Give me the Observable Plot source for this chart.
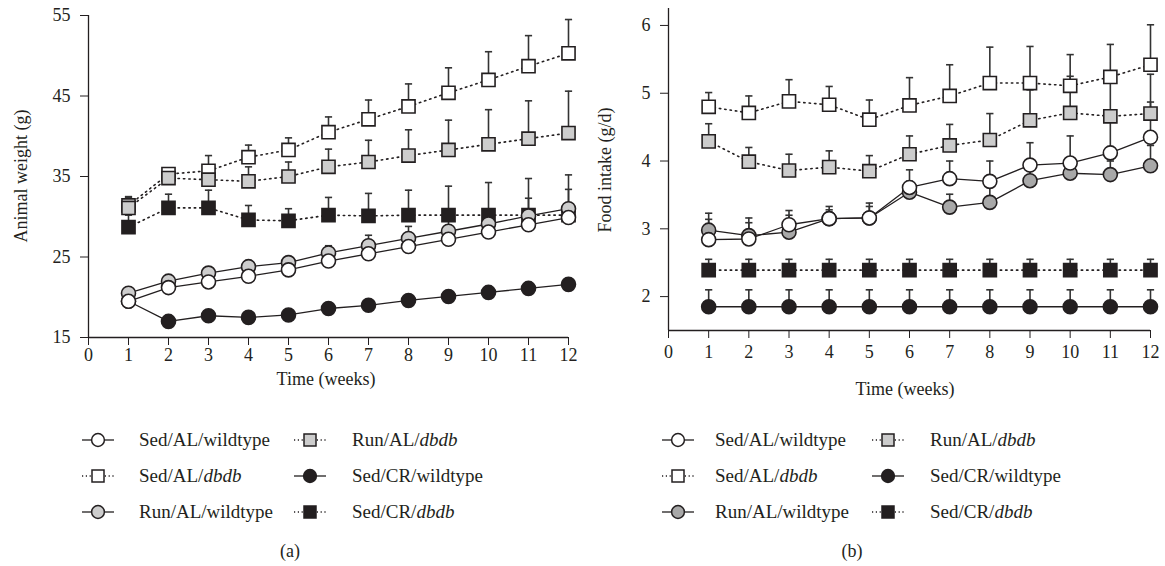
<!DOCTYPE html>
<html><head><meta charset="utf-8">
<script src="https://cdn.jsdelivr.net/npm/d3@7"></script>
<script src="https://cdn.jsdelivr.net/npm/@observablehq/plot@0.6"></script>
<style>
body{margin:0;background:#fff;width:1165px;height:566px;position:relative;overflow:hidden;font-family:"Liberation Serif","DejaVu Serif",serif;color:#231f20}
.panel{position:absolute;top:0}
.t{position:absolute;font-size:18px;white-space:nowrap;line-height:1}
.rot{transform:translate(-50%,-50%) rotate(-90deg)}
.ctr{transform:translate(-50%,-50%)}
.leg{position:absolute;font-size:19px;white-space:nowrap;line-height:1}
</style></head><body>
<div id="pa" class="panel" style="left:0"></div>
<div id="pb" class="panel" style="left:580px"></div>
<div class="t rot" style="left:21px;top:176px">Animal weight (g)</div>
<div class="t rot" style="left:605px;top:170px">Food intake (g/d)</div>
<div class="t ctr" style="left:326px;top:379px">Time (weeks)</div>
<div class="t ctr" style="left:905px;top:389px">Time (weeks)</div>
<div class="t ctr" style="left:290px;top:551px">(a)</div>
<div class="t ctr" style="left:852px;top:551px">(b)</div>
<div id="la"></div><div id="lb"></div>
<script>
// ---------- data ----------
const weeks = [1,2,3,4,5,6,7,8,9,10,11,12];
const seriesNames = ["Sed/AL/wildtype","Sed/AL/dbdb","Run/AL/wildtype","Run/AL/dbdb","Sed/CR/wildtype","Sed/CR/dbdb"];
const seriesHtml = ["Sed/AL/wildtype","Sed/AL/<i>dbdb</i>","Run/AL/wildtype","Run/AL/<i>dbdb</i>","Sed/CR/wildtype","Sed/CR/<i>dbdb</i>"];

// (a) animal weight (g): mean and upper error-bar end (null = not visible)
const weightSedALwt    = [19.5,21.2,21.9,22.6,23.4,24.5,25.4,26.3,27.2,28.1,29.0,29.9];
const weightSedALdb    = [31.4,35.3,35.7,37.4,38.3,40.5,42.1,43.7,45.4,47.0,48.7,50.3];
const weightSedALdbErr = [32.5,36.0,37.6,38.9,39.8,42.4,44.5,46.5,48.5,50.5,52.5,54.5];
const weightRunALwt    = [20.5,22.0,23.0,23.8,24.3,25.5,26.4,27.3,28.2,29.1,30.1,31.0];
const weightRunALwtErr = [null,null,null,null,null,26.4,27.7,28.8,29.6,30.4,32.3,33.4];
const weightRunALdb    = [31.1,34.8,34.6,34.4,35.0,36.2,36.8,37.6,38.3,39.0,39.7,40.4];
const weightRunALdbErr = [32.4,35.6,35.8,36.2,36.8,38.4,39.5,40.8,42.0,43.3,44.4,45.6];
const weightSedCRwt    = [19.5,17.0,17.7,17.5,17.8,18.6,19.0,19.6,20.1,20.6,21.1,21.6];
const weightSedCRdb    = [28.7,31.1,31.1,29.6,29.5,30.2,30.1,30.2,30.2,30.2,30.2,30.2];
const weightSedCRdbErr = [30.2,32.8,33.3,31.4,31.0,32.4,32.9,33.3,33.8,34.25,34.75,35.2];
const weightTicks = [15,25,35,45,55];

// (b) food intake (g/d)
const foodSedALwt    = [2.84,2.85,3.06,3.15,3.16,3.61,3.74,3.70,3.94,3.97,4.12,4.35];
const foodSedALwtErr = [3.14,3.09,3.27,3.28,3.33,3.87,4.00,4.00,4.27,4.37,4.58,4.87];
const foodSedALdb    = [4.80,4.71,4.88,4.83,4.61,4.82,4.96,5.15,5.15,5.11,5.24,5.42];
const foodSedALdbErr = [5.01,4.96,5.20,5.10,4.90,5.23,5.42,5.68,5.69,5.57,5.72,6.01];
const foodRunALwt    = [2.98,2.90,2.95,3.15,3.16,3.54,3.32,3.39,3.71,3.82,3.80,3.93];
const foodRunALwtErr = [3.23,3.16,3.20,3.33,3.38,3.70,3.51,3.62,3.90,3.95,4.00,4.23];
const foodRunALdb    = [4.29,3.99,3.86,3.91,3.85,4.10,4.23,4.31,4.60,4.71,4.66,4.70];
const foodRunALdbErr = [4.55,4.20,4.10,4.15,4.08,4.37,4.54,4.70,5.05,5.25,5.25,5.28];
const foodSedCRwt    = [1.85,1.85,1.85,1.85,1.85,1.85,1.85,1.85,1.85,1.85,1.85,1.85];
const foodSedCRwtErr = [2.10,2.10,2.10,2.10,2.10,2.10,2.10,2.10,2.10,2.10,2.10,2.10];
const foodSedCRdb    = [2.39,2.39,2.39,2.39,2.39,2.39,2.39,2.39,2.39,2.39,2.39,2.39];
const foodSedCRdbErr = [2.55,2.55,2.55,2.55,2.55,2.55,2.55,2.55,2.55,2.55,2.55,2.55];
const foodTicks = [2,3,4,5,6];
const weekTicks = [0,1,2,3,4,5,6,7,8,9,10,11,12];

// ---------- styles ----------
const INK = "#231f20";
const symbols = ["circle","square","circle","square","circle","square"];
const dashes = [undefined,"1.4 4",undefined,"1.4 4",undefined,"1.4 4"];
const fillsA = ["#ffffff","#ffffff","#cdcdcd","#cdcdcd",INK,INK];
const fillsB = ["#ffffff","#ffffff","#a8a8a8","#cccccc",INK,INK];
const drawOrder = [1,3,5,4,2,0];

function rowsOf(values, errs) {
  const rows = [];
  values.forEach((vals, s) => vals.forEach((v, i) => rows.push({s, week: weeks[i], value: v, err: errs[s] ? errs[s][i] : null})));
  return rows;
}

function panel({values, errs, fills, yDomain, yTicks, width, height, mt, mb, ml, mr, xPad}) {
  const rows = rowsOf(values, errs);
  const withErr = rows.filter(d => d.err != null);
  const marks = [
    Plot.ruleX([0], {stroke: INK, strokeWidth: 1.3}),
    Plot.ruleY([yDomain[0]], {stroke: INK, strokeWidth: 1.3}),
    Plot.axisX({ticks: weekTicks, tickSize: 8, tickPadding: xPad, tickFormat: d => String(d), fontSize: 18, label: null, stroke: INK}),
    Plot.axisY({ticks: yTicks, tickSize: 8, tickPadding: 10, tickFormat: d => String(d), fontSize: 18, label: null, stroke: INK}),
    Plot.ruleX(withErr, {x: "week", y1: "value", y2: "err", stroke: "#333", strokeWidth: 1.6}),
    Plot.link(withErr, {x1: d => d.week - 0.09, x2: d => d.week + 0.09, y1: "err", y2: "err", stroke: "#333", strokeWidth: 1.6})
  ];
  for (const s of drawOrder) {
    marks.push(Plot.line(rows.filter(r => r.s === s), {x: "week", y: "value", stroke: INK, strokeWidth: dashes[s] ? 1.6 : 1.3, strokeDasharray: dashes[s]}));
  }
  for (const s of drawOrder) {
    marks.push(Plot.dot(rows.filter(r => r.s === s), {x: "week", y: "value", symbol: symbols[s], r: symbols[s] === "square" ? 7.4 : 7, fill: fills[s], stroke: INK, strokeWidth: 1.6}));
  }
  return Plot.plot({
    width, height, marginTop: mt, marginBottom: mb, marginLeft: ml, marginRight: mr,
    x: {domain: [0, 12]},
    y: {domain: yDomain},
    style: {fontFamily: '"Liberation Serif","DejaVu Serif",serif', fontSize: "18px", color: INK, background: "white", overflow: "visible"},
    marks
  });
}

document.getElementById("pa").append(panel({
  values: [weightSedALwt, weightSedALdb, weightRunALwt, weightRunALdb, weightSedCRwt, weightSedCRdb],
  errs: [null, weightSedALdbErr, weightRunALwtErr, weightRunALdbErr, null, weightSedCRdbErr],
  fills: fillsA, yDomain: [15, 55], yTicks: weightTicks,
  width: 580, height: 395, mt: 15, mb: 58, ml: 88, mr: 12, xPad: 3
}));
document.getElementById("pb").append(panel({
  values: [foodSedALwt, foodSedALdb, foodRunALwt, foodRunALdb, foodSedCRwt, foodSedCRdb],
  errs: [foodSedALwtErr, foodSedALdbErr, foodRunALwtErr, foodRunALdbErr, foodSedCRwtErr, foodSedCRdbErr],
  fills: fillsB, yDomain: [1.5, 6.25], yTicks: foodTicks,
  width: 585, height: 395, mt: 8, mb: 65, ml: 88, mr: 15, xPad: 7
}));

// ---------- legends ----------
function legend(host, fills, cols) {
  const rowsY = [440, 476, 512];
  seriesNames.forEach((name, s) => {
    const c = s < 3 ? 0 : 1, r = s % 3;
    const sx = cols[c].sx, tx = cols[c].tx, y = rowsY[r];
    const svg = d3.create("svg").attr("width", 36).attr("height", 20)
      .style("position", "absolute").style("left", (sx - 18) + "px").style("top", (y - 10) + "px");
    svg.append("line").attr("x1", 2).attr("x2", 34).attr("y1", 10).attr("y2", 10)
      .attr("stroke", INK).attr("stroke-width", 1.3).attr("stroke-dasharray", dashes[s] ? "1.2 2.6" : null);
    if (symbols[s] === "circle") svg.append("circle").attr("cx", 18).attr("cy", 10).attr("r", 6.4).attr("fill", fills[s]).attr("stroke", INK).attr("stroke-width", 1.5);
    else svg.append("rect").attr("x", 12).attr("y", 4).attr("width", 12).attr("height", 12).attr("fill", fills[s]).attr("stroke", INK).attr("stroke-width", 1.5);
    host.append(svg.node());
    const t = document.createElement("div");
    t.className = "leg"; t.innerHTML = seriesHtml[s];
    t.style.left = tx + "px"; t.style.top = (y - 10) + "px";
    host.append(t);
  });
}
legend(document.getElementById("la"), fillsA, [{sx: 98, tx: 139}, {sx: 310, tx: 352}]);
legend(document.getElementById("lb"), fillsB, [{sx: 678, tx: 715}, {sx: 888, tx: 930}]);
</script>
</body></html>
